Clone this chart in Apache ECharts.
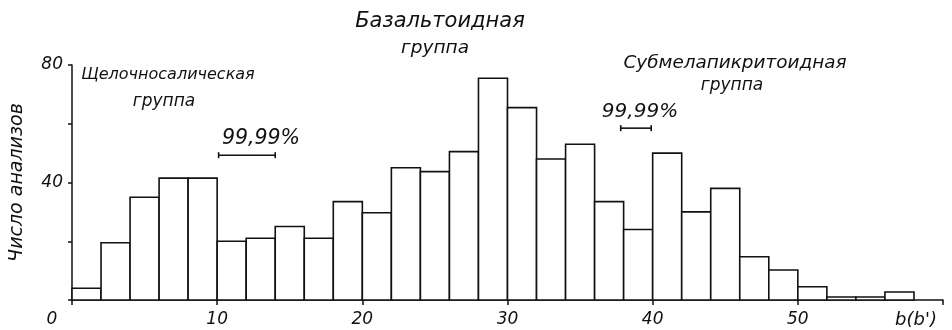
<!DOCTYPE html>
<html><head><meta charset="utf-8">
<script src="https://cdn.jsdelivr.net/npm/echarts@6/dist/echarts.min.js"></script>
<style>html,body{margin:0;padding:0;background:#fff}#c{width:952px;height:330px}</style>
</head><body><div id="c"></div>
<script>
// Histogram bins (b value, width 2) and counts
var binStarts = [0,2,4,6,8,10,12,14,16,18,20,22,24,26,28,30,32,34,36,38,40,42,44,46,48,50,52,54,56];
var counts    = [4,19.5,35,41.5,41.5,20,21,25,21,33.5,29.7,45,43.7,50.5,75.5,65.5,48,53,33.5,24,50,30,38,14.7,10.2,4.5,1,1,2.7];
var binWidth = 2;
var xTickLabels = {0:'0',10:'10',20:'20',30:'30',40:'40',50:'50',60:"b(b')"};
var yTickLabels = {40:'40',80:'80'};
// 99,99% confidence brackets: [b from, b to, height in count units]
var bracketLeft = [10.1, 14.0, 49.3];
var bracketRight = [37.8, 39.9, 58.5];
var groupNames = ['Щелочносалическая','Базальтоидная','Субмелапикритоидная'];
var groupWord = 'группа';
var confText = '99,99%';
var yName = 'Число анализов';

var FONT = 'DejaVu Sans';
var data = binStarts.map(function(s,i){return [s, s+binWidth, counts[i]];});
var chart = echarts.init(document.getElementById('c'), null, {renderer:'canvas'});
function T(text, x, y, size){
  return {type:'text', x:x, y:y, style:{text:text, fontFamily:FONT, fontStyle:'italic', fontSize:size,
    fill:'#111', textAlign:'center', textVerticalAlign:'middle'}};
}
chart.setOption({
  animation:false,
  backgroundColor:'#fff',
  grid:{left:72, right:9, top:65, bottom:30},
  xAxis:{type:'value', min:0, max:60, interval:10,
    axisLine:{show:true, onZero:false, lineStyle:{color:'#111', width:1.5}},
    axisTick:{show:true, inside:false, length:5, lineStyle:{color:'#111', width:1.5}},
    splitLine:{show:false},
    axisLabel:{margin:11, fontFamily:FONT, fontStyle:'italic', fontSize:17, color:'#111',
      formatter:function(v){
        var t = xTickLabels[v]; if(t===undefined) return '';
        if(v===0) return '{l|'+t+'}';
        if(v===60) return '{r|'+t+'}';
        return t;
      },
      rich:{l:{padding:[0,40,0,0], fontFamily:FONT, fontStyle:'italic', fontSize:17, color:'#111'},
            r:{padding:[0,54,0,0], fontFamily:FONT, fontStyle:'italic', fontSize:18, color:'#111'}}
    }
  },
  yAxis:{type:'value', min:0, max:80, interval:20,
    name:yName, nameLocation:'middle', nameGap:45, nameRotate:90,
    nameTextStyle:{fontFamily:FONT, fontStyle:'italic', fontSize:19, color:'#111'},
    axisLine:{show:true, lineStyle:{color:'#111', width:1.5}},
    axisTick:{show:true, length:4, lineStyle:{color:'#111', width:1.5}},
    splitLine:{show:false},
    axisLabel:{margin:9, fontFamily:FONT, fontStyle:'italic', fontSize:17, color:'#111',
      formatter:function(v){return yTickLabels[v]||'';}}
  },
  series:[{
    type:'custom',
    data:data,
    encode:{x:[0,1], y:2},
    renderItem:function(params, api){
      var p0 = api.coord([api.value(0), api.value(2)]);
      var p1 = api.coord([api.value(1), 0]);
      return {type:'rect', shape:{x:p0[0], y:p0[1], width:p1[0]-p0[0], height:p1[1]-p0[1]},
        style:{fill:'#fff', stroke:'#111', lineWidth:1.6}};
    },
    z:2
  },{
    type:'custom',
    data:[bracketLeft, bracketRight],
    renderItem:function(params, api){
      var a = api.coord([api.value(0), api.value(2)]);
      var b = api.coord([api.value(1), api.value(2)]);
      var y = a[1];
      return {type:'group', children:[
        {type:'line', shape:{x1:a[0],y1:y,x2:b[0],y2:y}, style:{stroke:'#111', lineWidth:1.6}},
        {type:'line', shape:{x1:a[0],y1:y-3,x2:a[0],y2:y+3}, style:{stroke:'#111', lineWidth:1.6}},
        {type:'line', shape:{x1:b[0],y1:y-3,x2:b[0],y2:y+3}, style:{stroke:'#111', lineWidth:1.6}}
      ]};
    },
    z:3
  }],
  graphic:[
    T(groupNames[0], 168, 75, 16),
    T(groupWord, 164, 102, 17),
    T(groupNames[1], 440, 22, 21),
    T(groupWord, 435, 48, 18.5),
    T(groupNames[2], 735, 63, 18.4),
    T(groupWord, 732, 86, 17),
    T(confText, 261, 139, 20.5),
    T(confText, 640, 112, 20)
  ]
});
</script></body></html>
